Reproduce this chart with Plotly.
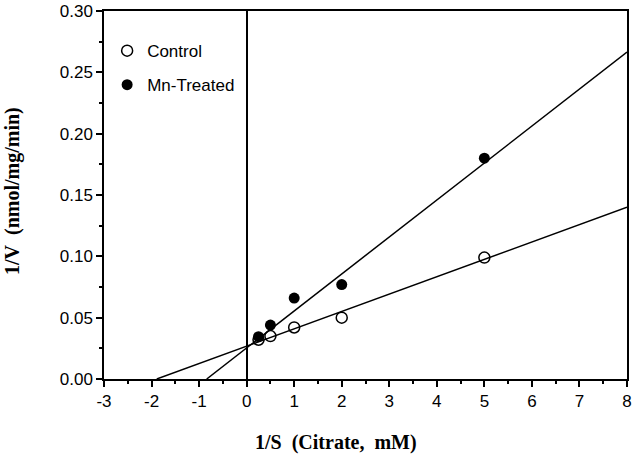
import plotly.graph_objects as go

# Data
inv_s = [0.25, 0.5, 1, 2, 5]
control_v = [0.032, 0.035, 0.042, 0.050, 0.099]
mn_v = [0.0345, 0.044, 0.066, 0.077, 0.180]

# Fitted lines (endpoints)
control_fit_x = [-1.89, 8]
control_fit_y = [0.0, 0.140]
mn_fit_x = [-0.84, 8]
mn_fit_y = [0.0, 0.2665]

x_ticks = [-3, -2, -1, 0, 1, 2, 3, 4, 5, 6, 7, 8]
x_tick_labels = ["-3", "-2", "-1", "0", "1", "2", "3", "4", "5", "6", "7", "8"]
y_ticks = [0.00, 0.05, 0.10, 0.15, 0.20, 0.25, 0.30]
y_tick_labels = ["0.00", "0.05", "0.10", "0.15", "0.20", "0.25", "0.30"]

fig = go.Figure()
fig.add_trace(go.Scatter(x=control_fit_x, y=control_fit_y, mode="lines",
                         line=dict(color="black", width=1.5), showlegend=False, hoverinfo="skip"))
fig.add_trace(go.Scatter(x=mn_fit_x, y=mn_fit_y, mode="lines",
                         line=dict(color="black", width=1.5), showlegend=False, hoverinfo="skip"))
fig.add_trace(go.Scatter(x=inv_s, y=control_v, mode="markers", name="Control", legendgroup="a",
                         marker=dict(symbol="circle-open", size=11, color="black", line=dict(width=1.5))))
fig.add_trace(go.Scatter(x=inv_s, y=mn_v, mode="markers", name="Mn-Treated", legendgroup="b",
                         marker=dict(symbol="circle", size=11, color="black")))

tick_font = dict(family="Arial, Liberation Sans", size=17, color="black")
axis_common = dict(showgrid=False, linecolor="black", linewidth=1.5, mirror=True,
                   ticks="outside", tickcolor="black", tickwidth=1.5, ticklen=6,
                   tickfont=tick_font, automargin=False)

fig.update_xaxes(range=[-3, 8], tickvals=x_ticks, ticktext=x_tick_labels,
                 zeroline=True, zerolinecolor="black", zerolinewidth=1.5,
                 minor=dict(dtick=0.5, ticks="outside", ticklen=3, tickcolor="black", tickwidth=1.5),
                 **axis_common)
fig.update_yaxes(range=[0, 0.30], tickvals=y_ticks, ticktext=y_tick_labels, zeroline=False,
                 minor=dict(dtick=0.025, ticks="outside", ticklen=3, tickcolor="black", tickwidth=1.5),
                 **axis_common)

title_font = dict(family="Times New Roman, Liberation Serif", size=20, color="black")
fig.add_annotation(text="<b>1/S&nbsp;&nbsp;(Citrate,&nbsp;&nbsp;mM)</b>", xref="paper", yref="paper",
                   x=(336 - 104) / 523, y=-(443 - 379) / 368, xanchor="center", yanchor="middle",
                   showarrow=False, font=title_font)
fig.add_annotation(text="<b>1/V&nbsp;&nbsp;(nmol/mg/min)</b>", xref="paper", yref="paper",
                   x=-(104 - 13) / 523, y=(379 - 191) / 368, xanchor="center", yanchor="middle",
                   textangle=-90, showarrow=False, font=title_font)

fig.update_layout(
    width=637, height=459,
    margin=dict(l=104, r=10, t=11, b=80),
    plot_bgcolor="white", paper_bgcolor="white",
    legend=dict(x=0.006, y=0.94, xanchor="left", yanchor="top", bgcolor="rgba(0,0,0,0)",
                font=dict(family="Arial, Liberation Sans", size=17, color="black"),
                tracegroupgap=9, itemwidth=30),
)

fig.write_html("out.html", config={"displayModeBar": False},
               post_script="document.body.style.margin='0px';")
